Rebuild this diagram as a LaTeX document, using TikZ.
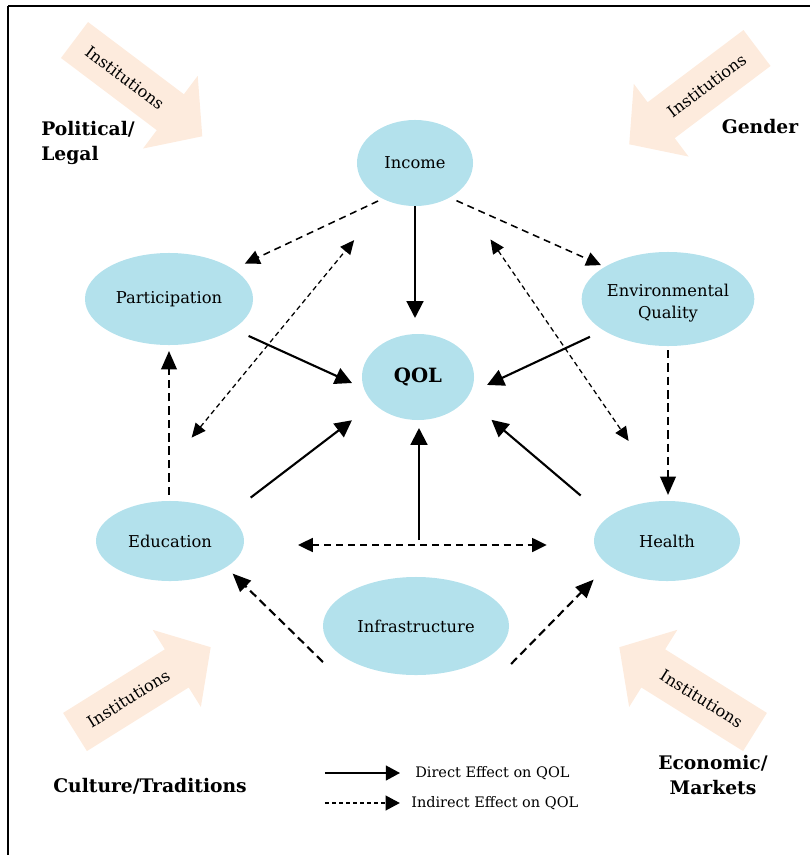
\documentclass[tikz,border=0pt]{standalone}
\usepackage{fontspec}
\setmainfont{DejaVu Serif}
\usetikzlibrary{positioning,shapes.geometric,arrows.meta}

\definecolor{qolblue}{RGB}{179,225,236}
\definecolor{instpeach}{RGB}{253,235,221}

\tikzset{
  blob/.style={ellipse,fill=qolblue,inner sep=0pt,outer sep=0pt,align=center,
    font=\fontsize{11.6}{15.5}\selectfont},
  direct/.style={line width=1.5pt,>={Triangle[length=12pt,width=12pt]},->},
  indirect/.style={line width=1.5pt,dash pattern=on 6pt off 3.5pt,
    >={Triangle[length=13pt,width=11pt]},->},
  spill/.style={line width=1.1pt,dash pattern=on 5pt off 3.5pt,
    >={Triangle[length=10.5pt,width=10pt]},->},
  feedback/.style={line width=0.9pt,dash pattern=on 3.5pt off 2.5pt,
    >={Triangle[length=10pt,width=9pt]},<->},
  context/.style={inner sep=0pt,font=\bfseries\fontsize{13.3}{18.4}\selectfont},
  keytext/.style={inner sep=0pt,anchor=west,font=\fontsize{10.3}{12}\selectfont}
}

\begin{document}
\begin{tikzpicture}[x=0.025cm,y=-0.025cm]
\useasboundingbox (0,0) rectangle (810,855);
\draw[line width=1.2pt] (8,6) -- (810,6);
\draw[line width=0.8pt] (8,6) -- (8,855);

\foreach \x/\y/\dir/\tilt in {74.5/40/-37/-37,757/48/217/37,75/732/32/32,755/732/148/-32}
{
  \begin{scope}[shift={(\x,\y)},rotate=\dir]
    \fill[instpeach] (0,-22.5) -- (120,-22.5) -- (120,-45.5) -- (160,0)
      -- (120,45.5) -- (120,22.5) -- (0,22.5) -- cycle;
    \node[rotate=\tilt,font=\fontsize{11.5}{14}\selectfont] at (63,0) {Institutions};
  \end{scope}
}

\node[blob,minimum width=2.9cm,minimum height=2.15cm] (inc) at (415,163) {Income};
\node[blob,minimum width=4.2cm,minimum height=2.3cm] (part) at (169,299) {Participation};
\node[blob,minimum width=4.225cm,minimum height=2.35cm] (env) at (668,299)
  {\raisebox{-5.7pt}[0pt][0pt]{\begin{tabular}{@{}c@{}}Environmental\\Quality\end{tabular}}};
\node[blob,minimum width=2.8cm,minimum height=2.15cm,
  font=\bfseries\fontsize{14}{16}\selectfont] (qol) at (418,377) {QOL};
\node[blob,minimum width=3.7cm,minimum height=2cm] (edu) at (170,541) {Education};
\node[blob,minimum width=3.65cm,minimum height=2cm] (hea) at (667,541) {Health};
\node[blob,minimum width=4.65cm,minimum height=2.45cm] (inf) at (416,626) {Infrastructure};

\node[context,align=left,anchor=west] (political) at (41,143) {Political/\\Legal};
\node[context] (gender) at (760,127) {Gender};
\node[context,anchor=base] (culture) at (150,792) {Culture/Traditions};
\node[context,align=center] (economic) at (713,775) {Economic/\\Markets};

\path[direct] (inc.south) edge[shorten >=0.4cm] (inc.south |- qol.north)
  (part.-25.3) edge[shorten <=0.43cm,shorten >=0.33cm] (qol.-168.1)
  (env.-154.6) edge[shorten <=0.38cm,shorten >=0.47cm] (qol.-17.1)
  (edu.24.9) edge[shorten <=0.74cm,shorten >=0.69cm] (qol.-149.1)
  (hea.159.7) edge[shorten <=0.87cm,shorten >=0.82cm] (qol.-24.3);

\draw[spill,<->,shorten <=1.35cm,shorten >=1.18cm]
  ([yshift=-0.1cm]edu.east) -- coordinate (link) ([yshift=-0.1cm]hea.west);
\draw[direct,shorten <=0.125cm,shorten >=0.2cm] (link) -- (link |- qol.south);

\path[spill] (inc.-132.1) edge[shorten <=0.13cm,shorten >=0.33cm] (part.25.8)
  (inc.-45.7) edge[shorten <=0.19cm,shorten >=0.11cm] (env.153.6);

\path[indirect] (part.south |- edu.north) edge[shorten <=0.15cm,shorten >=0.15cm] (part.south)
  (env.south) edge[shorten <=0.1cm,shorten >=0.15cm] (env.south |- hea.north)
  ([yshift=-0.9cm]inf.west) edge[shorten >=0.23cm] (edu.-25.7)
  ([xshift=0.05cm,yshift=-0.95cm]inf.east) edge[shorten >=0.52cm] (hea.-158.8);

\path[feedback] (edu.134.8) edge[shorten <=2.2cm,shorten >=1.28cm] (inc.-127.2)
  (inc.-34.8) edge[shorten <=1.44cm,shorten >=1.82cm] (hea.86.7);

\node[keytext] (keydirect) at (415,773) {Direct Effect on QOL};
\node[keytext] (keyindirect) at (411,803) {Indirect Effect on QOL};
\coordinate[left=2.25cm of keydirect.west] (keyA);
\coordinate[left=2.15cm of keyindirect.west] (keyB);
\draw[direct,line width=1.2pt,>={Triangle[length=10pt,width=10.5pt]},shorten >=0.375cm]
  (keyA) -- (keydirect.west);
\draw[spill,line width=0.9pt,dash pattern=on 3pt off 2pt,
  >={Triangle[length=10pt,width=10.5pt]},shorten >=0.28cm] (keyB) -- (keyindirect.west);
\end{tikzpicture}
\end{document}
